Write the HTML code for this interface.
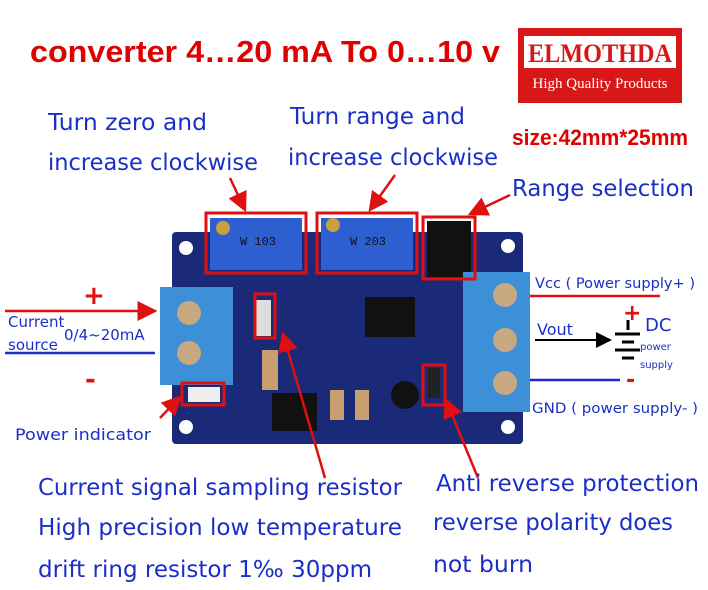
<!DOCTYPE html>
<html><head><meta charset="utf-8"><style>
body{margin:0;background:#fff;width:708px;height:590px;overflow:hidden}
svg{display:block}
.b{font-family:"DejaVu Sans","Liberation Sans",sans-serif;fill:#1a2fc8}
</style></head><body>
<svg width="708" height="590" viewBox="0 0 708 590" xmlns="http://www.w3.org/2000/svg">
<defs><marker id="a" markerWidth="8" markerHeight="8" refX="7" refY="4" orient="auto"><path d="M0,0 L8,4 L0,8z" fill="#e01010"/></marker>
<marker id="k" markerWidth="8" markerHeight="8" refX="7" refY="4" orient="auto"><path d="M0,0 L8,4 L0,8z" fill="#000"/></marker></defs>
<text x="30" y="62" font-family="Liberation Sans" font-weight="bold" font-size="31" fill="#e00000" textLength="470" lengthAdjust="spacingAndGlyphs">converter 4…20 mA To 0…10 v</text>
<rect x="518" y="28" width="164" height="75" fill="#d81818"/>
<rect x="524" y="36" width="152" height="32" fill="#fff"/>
<text x="600" y="62" text-anchor="middle" font-family="Liberation Serif" font-weight="bold" font-size="26" fill="#d81818" textLength="144" lengthAdjust="spacingAndGlyphs">ELMOTHDA</text>
<text x="600" y="88" text-anchor="middle" font-family="Liberation Serif" font-size="15" fill="#fff">High Quality Products</text>
<text x="512" y="145" font-family="Liberation Sans" font-weight="bold" font-size="22" fill="#e00000" textLength="176" lengthAdjust="spacingAndGlyphs">size:42mm*25mm</text>
<text class="b" x="48" y="130" font-size="23" textLength="159" lengthAdjust="spacingAndGlyphs">Turn zero and</text>
<text class="b" x="48" y="170" font-size="23" textLength="210" lengthAdjust="spacingAndGlyphs">increase clockwise</text>
<text class="b" x="290" y="124" font-size="23" textLength="175" lengthAdjust="spacingAndGlyphs">Turn range and</text>
<text class="b" x="288" y="165" font-size="23" textLength="210" lengthAdjust="spacingAndGlyphs">increase clockwise</text>
<text class="b" x="512" y="196" font-size="23" textLength="182" lengthAdjust="spacingAndGlyphs">Range selection</text>
<!-- board -->
<rect x="172" y="232" width="351" height="212" rx="4" fill="#1b2a78"/>
<circle cx="186" cy="248" r="7" fill="#fff"/><circle cx="508" cy="246" r="7" fill="#fff"/>
<circle cx="186" cy="427" r="7" fill="#fff"/><circle cx="508" cy="427" r="7" fill="#fff"/>
<rect x="210" y="218" width="92" height="52" fill="#2e5fd0"/>
<rect x="321" y="218" width="92" height="52" fill="#2e5fd0"/>
<circle cx="223" cy="228" r="7" fill="#c8a040"/><circle cx="333" cy="225" r="7" fill="#c8a040"/>
<text x="240" y="245" font-size="12" fill="#111" font-family="Liberation Mono">W 103</text>
<text x="350" y="245" font-size="12" fill="#111" font-family="Liberation Mono">W 203</text>
<rect x="427" y="221" width="44" height="56" fill="#111"/>
<rect x="365" y="297" width="50" height="40" fill="#111"/>
<rect x="272" y="393" width="45" height="38" fill="#111"/>
<circle cx="405" cy="395" r="14" fill="#111"/>
<rect x="255" y="300" width="16" height="36" fill="#ddd"/>
<rect x="262" y="350" width="16" height="40" fill="#c8a070"/>
<rect x="330" y="390" width="14" height="30" fill="#c8a070"/><rect x="355" y="390" width="14" height="30" fill="#c8a070"/>
<rect x="428" y="368" width="12" height="30" fill="#222"/>
<rect x="188" y="387" width="32" height="15" fill="#eee"/>
<!-- terminals -->
<rect x="160" y="287" width="73" height="98" fill="#3d8fd8"/>
<circle cx="189" cy="313" r="12" fill="#c8a880"/><circle cx="189" cy="353" r="12" fill="#c8a880"/>
<rect x="463" y="272" width="67" height="140" fill="#3d8fd8"/>
<circle cx="505" cy="295" r="12" fill="#c8a880"/><circle cx="505" cy="340" r="12" fill="#c8a880"/><circle cx="505" cy="383" r="12" fill="#c8a880"/>
<!-- red boxes -->
<g fill="none" stroke="#e01010" stroke-width="3">
<rect x="206" y="213" width="100" height="60"/><rect x="317" y="213" width="100" height="60"/>
<rect x="423" y="217" width="52" height="62"/><rect x="255" y="294" width="20" height="44"/>
<rect x="182" y="383" width="42" height="22"/><rect x="423" y="365" width="22" height="40"/>
</g>
<g stroke="#e01010" stroke-width="2.5" fill="none">
<line x1="230" y1="178" x2="245" y2="210" marker-end="url(#a)"/>
<line x1="395" y1="175" x2="370" y2="210" marker-end="url(#a)"/>
<line x1="510" y1="195" x2="470" y2="214" marker-end="url(#a)"/>
<line x1="160" y1="418" x2="180" y2="397" marker-end="url(#a)"/>
<line x1="325" y1="478" x2="283" y2="334" marker-end="url(#a)"/>
<line x1="478" y1="478" x2="446" y2="400" marker-end="url(#a)"/>
<line x1="530" y1="296" x2="660" y2="296"/><line x1="530" y1="380" x2="620" y2="380" stroke="#1a2fc8"/>
<line x1="5" y1="311" x2="155" y2="311" marker-end="url(#a)"/>
<line x1="5" y1="353" x2="155" y2="353" stroke="#1a2fc8"/>
</g>
<line x1="535" y1="340" x2="610" y2="340" stroke="#000" stroke-width="2" marker-end="url(#k)"/>
<g stroke="#000" stroke-width="3"><line x1="628" y1="320" x2="628" y2="330"/><line x1="615" y1="334" x2="640" y2="334"/><line x1="622" y1="342" x2="634" y2="342"/><line x1="615" y1="350" x2="640" y2="350"/><line x1="622" y1="358" x2="634" y2="358"/></g>
<text x="83" y="304" font-family="DejaVu Sans" font-weight="bold" font-size="26" fill="#e01010">+</text>
<text x="85" y="388" font-family="DejaVu Sans" font-weight="bold" font-size="26" fill="#e01010">-</text>
<text x="623" y="320" font-family="DejaVu Sans" font-weight="bold" font-size="22" fill="#e01010">+</text>
<text x="626" y="387" font-family="DejaVu Sans" font-weight="bold" font-size="22" fill="#e01010">-</text>
<text class="b" x="8" y="327" font-size="15">Current</text>
<text class="b" x="8" y="350" font-size="15">source</text>
<text class="b" x="64" y="340" font-size="15">0/4~20mA</text>
<text class="b" x="535" y="288" font-size="14" textLength="160" lengthAdjust="spacingAndGlyphs">Vcc ( Power supply+ )</text>
<text class="b" x="537" y="335" font-size="16">Vout</text>
<text class="b" x="532" y="413" font-size="14" textLength="166" lengthAdjust="spacingAndGlyphs">GND ( power supply- )</text>
<text class="b" x="645" y="331" font-size="18">DC</text>
<text class="b" x="640" y="350" font-size="10">power</text>
<text class="b" x="640" y="368" font-size="10">supply</text>
<text class="b" x="15" y="440" font-size="16" textLength="136" lengthAdjust="spacingAndGlyphs">Power indicator</text>
<text class="b" x="38" y="495" font-size="23" textLength="364" lengthAdjust="spacingAndGlyphs">Current signal sampling resistor</text>
<text class="b" x="38" y="535" font-size="23" textLength="364" lengthAdjust="spacingAndGlyphs">High precision low temperature</text>
<text class="b" x="38" y="577" font-size="23" textLength="334" lengthAdjust="spacingAndGlyphs">drift ring resistor 1‰ 30ppm</text>
<text class="b" x="436" y="491" font-size="23" textLength="263" lengthAdjust="spacingAndGlyphs">Anti reverse protection</text>
<text class="b" x="433" y="530" font-size="23" textLength="240" lengthAdjust="spacingAndGlyphs">reverse polarity does</text>
<text class="b" x="433" y="572" font-size="23" textLength="100" lengthAdjust="spacingAndGlyphs">not burn</text>
</svg>
</body></html>
